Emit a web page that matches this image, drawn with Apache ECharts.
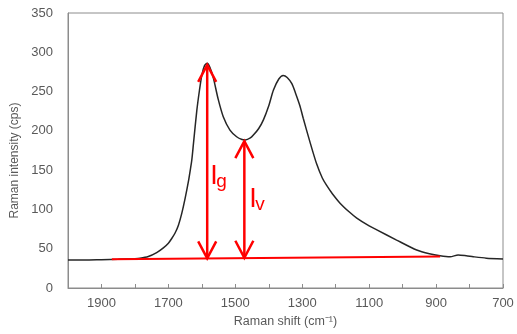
<!DOCTYPE html>
<html>
<head>
<meta charset="utf-8">
<script src="https://cdn.jsdelivr.net/npm/echarts@6/dist/echarts.min.js"></script>
<style>
  html, body { margin: 0; padding: 0; background: #fff; }
  #main { width: 517px; height: 334px; }
</style>
</head>
<body>
<div id="main"></div>
<script>
// Raman spectrum
const shift = [2000, 1950, 1900, 1850, 1800, 1785, 1760, 1735, 1715, 1700, 1690, 1680, 1670, 1660, 1650, 1640, 1635, 1630, 1625, 1615, 1607, 1600, 1592, 1584, 1576, 1566, 1551, 1536, 1516, 1496, 1480, 1470, 1455, 1446, 1430, 1416, 1400, 1386, 1370, 1357, 1345, 1331, 1320, 1307, 1297, 1277, 1257, 1240, 1227, 1210, 1187, 1160, 1137, 1100, 1077, 1018, 958, 920, 888, 858, 834, 810, 789, 750, 700];
const intensity = [35.5, 35.5, 36, 36.5, 37.3, 37.8, 40, 45, 51, 57, 63, 70, 80, 95, 114, 136, 149, 163, 184, 226, 252, 271, 283, 286, 281, 268, 240, 218, 201, 192.5, 189, 188.5, 191, 194.6, 203, 214, 232, 252, 266, 270.6, 268, 260, 248, 232, 216, 186, 158, 140, 130.5, 120, 108, 97, 89, 79, 74, 61, 48.3, 43.5, 41, 39.8, 42, 41, 39.8, 38, 37];

// red baseline and the Ig / Iv arrows
const baseX = [1869, 888];
const baseY = [36.5, 40];
const arrowX = [1584, 1473];
const arrowLow = [37.8, 38.5];
const arrowHigh = [284, 187];
const arrowLabelAt = [142, 112];
const arrowSub = ['g', 'v'];

const xTicks = [1900, 1700, 1500, 1300, 1100, 900, 700];

const font = 'Liberation Sans, Arial, sans-serif';
const grey = '#595959';

const chart = echarts.init(document.getElementById('main'));

const option = {
  animation: false,
  grid: {
    left: 68, right: 14, top: 13, bottom: 46,
    show: true, borderColor: '#8c8c8c', borderWidth: 1
  },
  xAxis: {
    type: 'value',
    inverse: true,
    min: 700, max: 2000, interval: 100,
    name: 'Raman shift (cm⁻¹)',
    nameLocation: 'middle',
    nameGap: 27,
    nameTextStyle: { color: grey, fontSize: 12.5, fontFamily: font },
    axisLine: { lineStyle: { color: '#8c8c8c' } },
    axisTick: { inside: true, length: 4, lineStyle: { color: '#8c8c8c' } },
    axisLabel: {
      color: grey, fontSize: 13, fontFamily: font, margin: 9,
      formatter: v => xTicks.indexOf(v) >= 0 ? String(v) : ''
    },
    splitLine: { show: false }
  },
  yAxis: {
    type: 'value',
    min: 0, max: 350, interval: 50,
    name: 'Raman intensity (cps)',
    nameLocation: 'middle',
    nameGap: 36,
    nameTextStyle: { color: grey, fontSize: 12, fontFamily: font, padding: [0, 20, 0, 0] },
    axisLine: { show: true, lineStyle: { color: '#8c8c8c' } },
    axisTick: { show: false },
    axisLabel: { color: grey, fontSize: 13, fontFamily: font, margin: 15 },
    splitLine: { show: false }
  },
  series: [
    {
      type: 'line',
      data: shift.map((x, i) => [x, intensity[i]]),
      showSymbol: false,
      smooth: 0.25,
      lineStyle: { color: '#262626', width: 1.5 },
      z: 2
    },
    {
      type: 'line',
      data: baseX.map((x, i) => [x, baseY[i]]),
      showSymbol: false,
      lineStyle: { color: '#ff0000', width: 2 },
      z: 3
    },
    {
      type: 'custom',
      data: arrowX.map((x, i) => [x, arrowLow[i], arrowHigh[i], arrowLabelAt[i]]),
      z: 4,
      renderItem(params, api) {
        const top = api.coord([api.value(0), api.value(2)]);
        const bot = api.coord([api.value(0), api.value(1)]);
        const lab = api.coord([api.value(0), api.value(3)]);
        const hw = 9, hh = 17;
        const red = { stroke: '#ff0000', lineWidth: 2.5, fill: null };
        const idx = params.dataIndex;
        const dx = idx === 0 ? 3 : 5;
        return {
          type: 'group',
          children: [
            { type: 'line', shape: { x1: top[0], y1: top[1], x2: bot[0], y2: bot[1] }, style: red },
            { type: 'polyline', shape: { points: [[top[0] - hw, top[1] + hh], [top[0], top[1]], [top[0] + hw, top[1] + hh]] }, style: red },
            { type: 'polyline', shape: { points: [[bot[0] - hw, bot[1] - hh], [bot[0], bot[1]], [bot[0] + hw, bot[1] - hh]] }, style: red },
            { type: 'text', x: lab[0] + dx, y: lab[1],
              style: { text: 'I', fill: '#ff0000', font: '27px ' + font, textAlign: 'left', textVerticalAlign: 'middle' } },
            { type: 'text', x: lab[0] + dx + 6, y: lab[1] + 5,
              style: { text: arrowSub[idx], fill: '#ff0000', font: '19px ' + font, textAlign: 'left', textVerticalAlign: 'middle' } }
          ]
        };
      }
    }
  ]
};

chart.setOption(option);
</script>
</body>
</html>
